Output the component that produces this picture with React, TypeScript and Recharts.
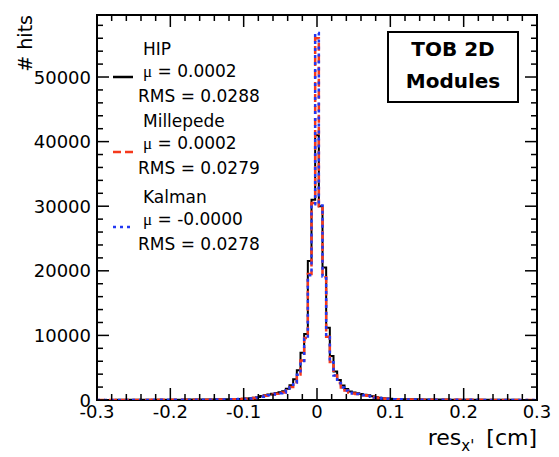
import { LineChart, Line, XAxis, YAxis, ReferenceArea } from 'recharts'

// histogram bins (centers), 0.005 wide in the core, coarse in the tails
const binWidth = 0.005
const coreBins = Array.from({ length: 49 }, (_, i) => +((i - 24) * binWidth).toFixed(3))
const leftTail = [-0.3, -0.25, -0.2, -0.16]
const rightTail = [0.16, 0.2, 0.25, 0.3]
const binCenters = [...leftTail, ...coreBins, ...rightTail]

const hipCounts = [
  10, 20, 35, 60,
  100, 120, 140, 160, 190, 230, 280, 350, 460, 600, 730, 850, 950, 1080, 1200, 1350, 1750, 2300, 3200, 4600, 7300, 10200, 21500, 31000,
  41000,
  30000, 20500, 11200, 6800, 4400, 3100, 2250, 1700, 1300, 1150, 1050, 930, 820, 720, 590, 450, 340, 270, 220, 185, 150, 130, 115, 100,
  60, 35, 20, 10,
]

const milleCounts = [
  8, 16, 28, 50,
  90, 105, 120, 140, 165, 200, 245, 310, 410, 530, 650, 760, 860, 960, 1050, 1180, 1520, 2000, 2750, 3950, 6100, 9600, 19500, 30500,
  56000,
  30000, 19000, 9800, 5900, 3800, 2650, 1950, 1480, 1150, 1020, 930, 830, 740, 640, 520, 400, 300, 240, 195, 160, 135, 115, 100, 90,
  50, 28, 16, 8,
]

const kalmanCounts = [
  8, 15, 27, 48,
  85, 100, 118, 138, 160, 195, 240, 300, 400, 520, 640, 750, 850, 950, 1040, 1170, 1500, 1980, 2720, 3900, 6050, 9500, 19300, 30300,
  56800,
  30100, 19100, 9700, 5850, 3780, 2630, 1940, 1470, 1140, 1010, 920, 820, 730, 630, 510, 395, 295, 235, 190, 158, 132, 112, 98, 88,
  48, 27, 15, 8,
]

const xMajorTicks = [-0.3, -0.2, -0.1, 0, 0.1, 0.2, 0.3]
const xTicks = Array.from({ length: 31 }, (_, i) => +(-0.3 + i * 0.02).toFixed(2))
const yMajorTicks = [0, 10000, 20000, 30000, 40000, 50000]
const yTicks = Array.from({ length: 30 }, (_, i) => i * 2000)

const legendEntries = [
  { name: 'HIP', mean: '0.0002', rms: '0.0288', color: '#000000', dash: undefined },
  { name: 'Millepede', mean: '0.0002', rms: '0.0279', color: '#f5391c', dash: '8 4' },
  { name: 'Kalman', mean: '-0.0000', rms: '0.0278', color: '#2238f2', dash: '3 4' },
]

const W = 559
const H = 457
const LEFT = 97
const RIGHT = 537
const TOP = 15
const BOTTOM = 400
const Y_MAX = 59600
const FONT = '"DejaVu Sans", sans-serif'

const data = binCenters.map((x, i) => ({
  x,
  hip: hipCounts[i],
  mille: milleCounts[i],
  kalman: kalmanCounts[i],
}))

const isMajorX = (v: number) => xMajorTicks.some(t => Math.abs(t - v) < 1e-6)
const isMajorY = (v: number) => yMajorTicks.includes(v)

function BottomTick(props: any) {
  const { x, payload } = props
  const major = isMajorX(payload.value)
  return (
    <g>
      <line x1={x} x2={x} y1={BOTTOM} y2={BOTTOM - (major ? 12 : 6)} stroke="#000" strokeWidth={1.5} />
      {major && (
        <text x={x} y={411} textAnchor="middle" dominantBaseline="central" fontFamily={FONT} fontSize={18} fill="#000">
          {String(Math.round(payload.value * 10) / 10)}
        </text>
      )}
    </g>
  )
}

function TopTick(props: any) {
  const { x, payload } = props
  const major = isMajorX(payload.value)
  return <line x1={x} x2={x} y1={TOP} y2={TOP + (major ? 12 : 6)} stroke="#000" strokeWidth={1.5} />
}

function LeftTick(props: any) {
  const { y, payload } = props
  const major = isMajorY(payload.value)
  return (
    <g>
      <line x1={LEFT} x2={LEFT + (major ? 12 : 6)} y1={y} y2={y} stroke="#000" strokeWidth={1.5} />
      {major && (
        <text x={91} y={y} textAnchor="end" dominantBaseline="central" fontFamily={FONT} fontSize={18} fill="#000">
          {String(payload.value)}
        </text>
      )}
    </g>
  )
}

function RightTick(props: any) {
  const { y, payload } = props
  const major = isMajorY(payload.value)
  return <line x1={RIGHT} x2={RIGHT - (major ? 12 : 6)} y1={y} y2={y} stroke="#000" strokeWidth={1.5} />
}

function Overlay() {
  const rows = [49, 121, 197]
  const lineYs = [77, 152, 227]
  return (
    <svg width={W} height={H} style={{ position: 'absolute', left: 0, top: 0, pointerEvents: 'none' }}>
      <text transform="rotate(-90)" x={-15} y={25} textAnchor="end" dominantBaseline="central" fontFamily={FONT} fontSize={19}>
        # hits
      </text>
      <text x={RIGHT} y={437} textAnchor="end" dominantBaseline="central" fontFamily={FONT} fontSize={22}>
        res
        <tspan fontSize={15} dy={9}>x'</tspan>
        <tspan dy={-9} dx={12}>[cm]</tspan>
      </text>

      {legendEntries.map((e, i) => (
        <g key={e.name} fontFamily={FONT} fontSize={17}>
          <line x1={113} x2={133} y1={lineYs[i]} y2={lineYs[i]} stroke={e.color} strokeWidth={2.5} strokeDasharray={e.dash} />
          <text x={143} y={rows[i]} dominantBaseline="central">{e.name}</text>
          <text x={143} y={rows[i] + 22} dominantBaseline="central">
            <tspan fontFamily='"Liberation Serif", serif'>μ</tspan> = {e.mean}
          </text>
          <text x={138} y={rows[i] + 47} dominantBaseline="central">RMS = {e.rms}</text>
        </g>
      ))}

      <rect x={388} y={32} width={130} height={70} fill="#fff" stroke="#000" strokeWidth={2} />
      <text x={453} y={49} textAnchor="middle" dominantBaseline="central" fontFamily={FONT} fontWeight="bold" fontSize={20}>
        TOB 2D
      </text>
      <text x={453} y={81} textAnchor="middle" dominantBaseline="central" fontFamily={FONT} fontWeight="bold" fontSize={20}>
        Modules
      </text>
    </svg>
  )
}

export default function App() {
  return (
    <div style={{ position: 'absolute', left: 0, top: 0, width: W, height: H, background: '#fff' }}>
      <LineChart
        width={W}
        height={H}
        data={data}
        margin={{ top: TOP - 1, right: W - RIGHT - 1, bottom: H - BOTTOM - 1, left: LEFT - 1 }}
      >
        <XAxis
          dataKey="x"
          type="number"
          domain={[-0.3, 0.3]}
          allowDataOverflow
          ticks={xTicks}
          interval={0}
          height={1}
          axisLine={false}
          tickLine={false}
          tick={<BottomTick />}
        />
        <XAxis
          xAxisId="top"
          orientation="top"
          dataKey="x"
          type="number"
          domain={[-0.3, 0.3]}
          allowDataOverflow
          ticks={xTicks}
          interval={0}
          height={1}
          axisLine={false}
          tickLine={false}
          tick={<TopTick />}
        />
        <YAxis
          type="number"
          domain={[0, Y_MAX]}
          allowDataOverflow
          ticks={yTicks}
          interval={0}
          width={1}
          axisLine={false}
          tickLine={false}
          tick={<LeftTick />}
        />
        <YAxis
          yAxisId="right"
          orientation="right"
          type="number"
          domain={[0, Y_MAX]}
          allowDataOverflow
          ticks={yTicks}
          interval={0}
          width={1}
          axisLine={false}
          tickLine={false}
          tick={<RightTick />}
        />
        <ReferenceArea x1={-0.3} x2={0.3} y1={0} y2={Y_MAX} fill="none" stroke="#000" strokeWidth={2} ifOverflow="visible" />
        <Line dataKey="hip" type="step" stroke="#000" strokeWidth={2} dot={false} isAnimationActive={false} />
        <Line dataKey="mille" type="step" stroke="#f5391c" strokeWidth={2.5} strokeDasharray="8 4" dot={false} isAnimationActive={false} />
        <Line dataKey="kalman" type="step" stroke="#2238f2" strokeWidth={2.5} strokeDasharray="3 4" dot={false} isAnimationActive={false} />
      </LineChart>
      <Overlay />
    </div>
  )
}
